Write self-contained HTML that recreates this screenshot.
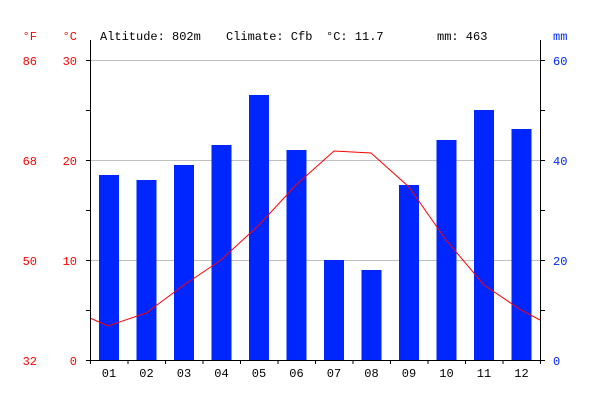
<!DOCTYPE html>
<html><head><meta charset="utf-8"><style>body{margin:0;background:#fff}</style></head><body>
<svg width="600" height="400" xmlns="http://www.w3.org/2000/svg" font-family="Liberation Mono, DejaVu Sans Mono, monospace" font-size="12">
<rect width="600" height="400" fill="#fff"/>
<g stroke="#c0c0c0" stroke-width="1">
<line x1="90" y1="60.5" x2="540" y2="60.5"/>
<line x1="90" y1="160.5" x2="540" y2="160.5"/>
<line x1="90" y1="260.5" x2="540" y2="260.5"/>
</g>
<g fill="#0026ff">
<rect x="99" y="175" width="20" height="185"/>
<rect x="136.5" y="180" width="20" height="180"/>
<rect x="174" y="165" width="20" height="195"/>
<rect x="211.5" y="145" width="20" height="215"/>
<rect x="249" y="95" width="20" height="265"/>
<rect x="286.5" y="150" width="20" height="210"/>
<rect x="324" y="260" width="20" height="100"/>
<rect x="361.5" y="270" width="20" height="90"/>
<rect x="399" y="185" width="20" height="175"/>
<rect x="436.5" y="140" width="20" height="220"/>
<rect x="474" y="110" width="20" height="250"/>
<rect x="511.5" y="129" width="20" height="231"/>
</g>
<polyline fill="none" stroke="#ff0000" stroke-width="1" points="90,318 108,326 146,313 184,285 221,260 259,225 296,185 334,151 371,153 409,187 446,240 484,285 521,310 540,320"/>
<g stroke="#000" stroke-width="1">
<line x1="90.5" y1="40" x2="90.5" y2="360"/>
<line x1="540.5" y1="40" x2="540.5" y2="360"/>
<line x1="90" y1="360.5" x2="541" y2="360.5"/>
<line x1="86" y1="60.5" x2="90" y2="60.5"/><line x1="86" y1="110.5" x2="90" y2="110.5"/>
<line x1="86" y1="160.5" x2="90" y2="160.5"/><line x1="86" y1="210.5" x2="90" y2="210.5"/>
<line x1="86" y1="260.5" x2="90" y2="260.5"/><line x1="86" y1="310.5" x2="90" y2="310.5"/>
<line x1="86" y1="360.5" x2="90" y2="360.5"/>
<line x1="540" y1="60.5" x2="545" y2="60.5"/><line x1="540" y1="110.5" x2="545" y2="110.5"/>
<line x1="540" y1="160.5" x2="545" y2="160.5"/><line x1="540" y1="210.5" x2="545" y2="210.5"/>
<line x1="540" y1="260.5" x2="545" y2="260.5"/><line x1="540" y1="310.5" x2="545" y2="310.5"/>
<line x1="540" y1="360.5" x2="545" y2="360.5"/>
<line x1="90.5" y1="360" x2="90.5" y2="364"/><line x1="128" y1="360" x2="128" y2="364"/>
<line x1="165.5" y1="360" x2="165.5" y2="364"/><line x1="203" y1="360" x2="203" y2="364"/>
<line x1="240.5" y1="360" x2="240.5" y2="364"/><line x1="278" y1="360" x2="278" y2="364"/>
<line x1="315.5" y1="360" x2="315.5" y2="364"/><line x1="353" y1="360" x2="353" y2="364"/>
<line x1="390.5" y1="360" x2="390.5" y2="364"/><line x1="428" y1="360" x2="428" y2="364"/>
<line x1="465.5" y1="360" x2="465.5" y2="364"/><line x1="503" y1="360" x2="503" y2="364"/>
<line x1="540.5" y1="360" x2="540.5" y2="364"/>
</g>
<g fill="#ff0000" text-anchor="end">
<text x="37" y="40">°F</text><text x="77" y="40">°C</text>
<text x="37" y="65">86</text><text x="77" y="65">30</text>
<text x="37" y="165">68</text><text x="77" y="165">20</text>
<text x="37" y="265">50</text><text x="77" y="265">10</text>
<text x="37" y="365">32</text><text x="77" y="365">0</text>
</g>
<g fill="#0026ff">
<text x="553" y="40">mm</text>
<text x="553" y="65">60</text><text x="553" y="165">40</text>
<text x="553" y="265">20</text><text x="553" y="365">0</text>
</g>
<g fill="#000">
<text x="100" y="40">Altitude: 802m</text>
<text x="226" y="40">Climate: Cfb</text>
<text x="326" y="40">°C: 11.7</text>
<text x="437" y="40">mm: 463</text>
</g>
<g fill="#000" text-anchor="middle">
<text x="109" y="377">01</text><text x="146.5" y="377">02</text><text x="184" y="377">03</text>
<text x="221.5" y="377">04</text><text x="259" y="377">05</text><text x="296.5" y="377">06</text>
<text x="334" y="377">07</text><text x="371.5" y="377">08</text><text x="409" y="377">09</text>
<text x="446.5" y="377">10</text><text x="484" y="377">11</text><text x="521.5" y="377">12</text>
</g>
</svg>
</body></html>
